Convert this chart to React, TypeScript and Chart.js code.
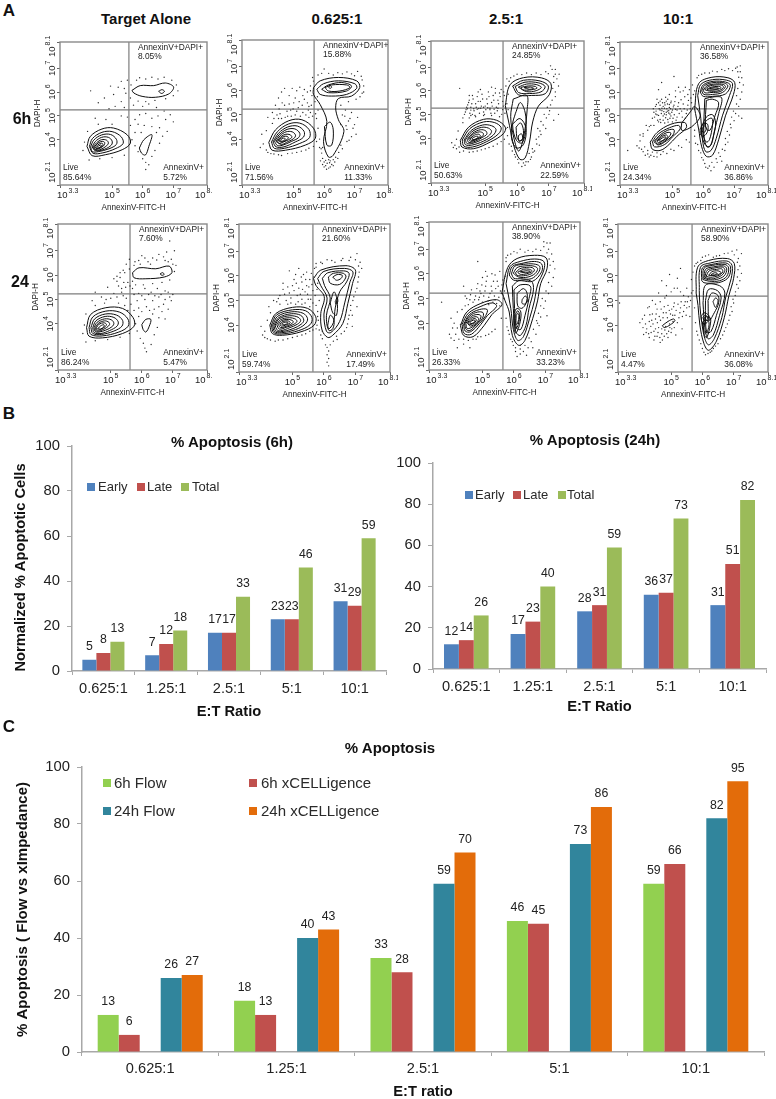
import React, { useEffect, useRef } from "react";
import { Chart, registerables } from "chart.js";
Chart.register(...registerables);

const FONT = '"Liberation Sans", Arial, sans-serif';

// ---------- Panel A: log10 readings from the flow plots ----------
const xTickValues = [3.3, 5, 6, 7, 8.1];
const yTickValues = [2.1, 4, 5, 6, 7, 8.1];

const p1Dots = [5.3,6.45,5.5,6.5,5.62,6.3,5.8,6.5,5.9,6.6,6.1,6.55,6.3,6.62,6.5,6.55,6.7,6.62,6.95,6.5,7.1,6.3,7.15,6.05,7.0,5.85,6.75,5.72,6.4,5.65,6.1,5.6,5.85,5.62,5.6,5.75,5.45,5.95,5.4,6.15,5.2,6.2,5.05,5.9,4.95,6.25,4.75,5.75,4.55,5.55,4.3,6.05,5.3,5.6,5.1,5.4,4.9,5.3,5.4,5.35,5.7,5.45,6.0,5.4,6.2,5.5,6.45,5.35,6.7,5.2,6.9,5.05,7.0,4.75,6.75,4.85,6.5,5.0,6.3,4.9,6.1,5.1,5.9,5.05,5.75,4.85,5.5,4.95,5.3,5.0,5.6,4.6,5.85,4.65,6.05,4.6,6.3,4.55,6.55,4.5,6.8,4.35,6.65,4.15,6.45,4.3,5.75,4.3,5.95,4.3,5.65,4.0,5.75,3.75,5.85,3.5,6.0,3.2,6.1,3.05,6.2,2.95,6.3,3.3,6.4,3.55,6.55,3.85,6.1,2.75,4.1,3.9,4.05,3.55,4.25,3.15,4.6,3.2,5.0,3.25,5.4,3.35,4.2,4.35,4.55,4.65,5.0,4.65,4.8,4.85,4.45,4.9];
const p1Loops = [
  [4.18,3.72,4.29,4.14,4.67,4.45,5.05,4.49,5.49,4.21,5.6,3.86,5.33,3.58,4.78,3.37,4.35,3.33],
  [4.26,3.72,4.36,4.05,4.67,4.31,5.0,4.34,5.3,4.12,5.36,3.84,5.1,3.62,4.7,3.45,4.38,3.43],
  [4.3,3.7,4.4,3.98,4.66,4.2,4.95,4.22,5.14,4.02,5.14,3.8,4.9,3.62,4.55,3.5,4.36,3.5],
  [4.35,3.7,4.45,3.92,4.66,4.1,4.88,4.1,5.0,3.95,4.98,3.78,4.75,3.6,4.45,3.54],
  [4.38,3.7,4.5,3.88,4.66,4.0,4.82,3.98,4.88,3.86,4.8,3.72,4.6,3.58,4.44,3.58],
  [4.42,3.7,4.54,3.86,4.68,3.93,4.76,3.88,4.72,3.74,4.56,3.62,4.45,3.6],
  [4.46,3.7,4.58,3.82,4.68,3.85,4.7,3.76,4.58,3.66,4.48,3.63],
  [4.5,3.68,4.62,3.78,4.66,3.74,4.6,3.68,4.52,3.64],
  [5.65,6.07,5.92,6.27,6.36,6.27,6.74,6.38,7.01,6.21,6.85,5.92,6.41,5.78,5.98,5.82,5.71,5.96],
  [6.52,6.03,6.63,6.1,6.71,6.03,6.62,5.94],
  [5.89,3.65,6.04,4.0,6.3,4.21,6.2,3.72,6.09,3.36,5.96,3.44],
];

const p2Dots = [4.3,5.1,4.4,5.4,4.5,5.7,4.6,5.95,4.7,6.1,4.85,5.8,4.95,6.1,5.1,6.0,5.2,6.15,5.3,5.8,5.45,5.95,5.55,6.2,5.65,6.4,5.8,6.65,6.0,6.9,6.3,6.65,6.6,6.7,6.9,6.7,7.1,6.8,7.25,6.45,7.3,6.2,7.25,5.9,7.05,5.65,6.8,5.55,5.0,5.5,5.15,5.3,4.9,5.2,4.7,5.4,4.55,5.05,4.35,4.85,4.6,4.85,4.8,4.95,5.05,5.0,5.3,5.1,5.5,5.35,5.55,5.1,5.5,4.9,5.75,4.85,5.8,5.2,5.7,5.55,6.7,5.2,6.9,5.1,7.1,4.9,7.0,4.6,6.8,4.75,6.6,5.0,6.75,4.4,6.9,4.1,7.05,4.2,6.75,3.9,6.6,3.6,5.8,4.45,5.85,4.0,5.85,3.65,5.95,3.2,6.0,3.05,6.05,2.9,6.15,2.8,6.25,2.95,6.35,3.05,6.45,3.2,6.1,3.0,6.2,3.1,6.15,3.15,6.3,3.15,5.95,2.95,3.95,4.2,4.0,3.8,4.1,3.55,4.25,3.4,4.5,3.35,4.8,3.4,5.1,3.45,5.4,3.55,5.65,3.7,5.75,3.9,5.9,3.6,4.1,4.35,4.3,4.65,4.5,4.85,4.15,4.9,3.9,3.65];
const p2More = [4.45,5.0,4.52,5.25,4.62,5.5,4.72,4.9,4.78,5.15,4.85,5.45,4.92,4.95,4.98,5.25,5.05,5.7,5.1,5.15,5.18,5.55,5.22,4.95,5.28,5.4,5.35,5.65,5.4,5.0,5.45,5.5,5.48,5.2,5.6,5.8,5.62,4.95,5.58,5.4,5.72,5.05,5.78,5.75,5.55,6.0,5.35,6.05,5.62,6.55,5.92,6.72,6.15,6.72,6.45,6.75,6.75,6.78,7.0,6.62,7.22,6.6,7.18,5.75,7.3,5.95,6.55,5.4,6.68,4.95,6.85,4.85,6.95,4.45,6.82,3.95,6.55,3.75,6.48,3.45,5.92,3.42,5.88,3.1,6.0,2.85,6.08,2.75,6.2,2.85,6.3,2.9,6.18,3.02,6.38,3.25,6.05,3.12,4.15,3.45,4.35,3.38,4.6,3.32,4.95,3.42,5.25,3.5,5.5,3.62,5.95,3.65,6.55,4.6,6.72,4.55];
const p2Loops = [
  [4.18,3.86,4.4,4.38,4.84,4.76,5.27,4.8,5.65,4.45,5.71,4.03,5.38,3.75,4.73,3.54,4.29,3.54],
  [4.27,3.88,4.46,4.3,4.82,4.62,5.2,4.66,5.5,4.4,5.52,4.06,5.2,3.82,4.7,3.62,4.36,3.62],
  [4.32,3.88,4.5,4.24,4.8,4.5,5.12,4.54,5.34,4.32,5.32,4.08,5.05,3.88,4.68,3.68,4.42,3.68],
  [4.37,3.9,4.52,4.18,4.78,4.4,5.04,4.42,5.2,4.24,5.16,4.06,4.92,3.9,4.62,3.74,4.46,3.74],
  [4.42,3.9,4.55,4.14,4.75,4.3,4.95,4.3,5.06,4.16,5.0,4.02,4.82,3.9,4.6,3.78],
  [4.46,3.9,4.58,4.1,4.74,4.2,4.88,4.18,4.94,4.08,4.84,3.98,4.66,3.88,4.52,3.82],
  [4.5,3.92,4.6,4.06,4.72,4.12,4.82,4.08,4.78,3.98,4.62,3.88],
  [4.54,3.93,4.62,4.02,4.7,4.04,4.72,3.98,4.62,3.91],
  [5.65,6.13,5.87,6.41,6.47,6.55,7.07,6.41,7.17,6.13,6.9,5.78,6.47,5.68,6.38,5.29,6.47,4.8,6.65,4.31,6.3,3.33,6.14,3.26,5.98,3.89,6.09,4.73,5.87,5.43,5.65,5.85],
  [5.76,6.06,5.98,6.29,6.47,6.41,7.01,6.29,7.07,6.1,6.74,5.85,6.25,5.78,5.87,5.85],
  [5.92,6.06,6.14,6.24,6.58,6.34,6.9,6.2,6.74,5.99,6.14,5.92],
  [6.03,6.13,6.25,6.24,6.74,6.24,6.85,6.13,6.52,5.99,6.14,5.99],
  [6.14,6.15,6.2,6.21,6.25,6.15,6.2,6.1],
  [6.01,4.52,6.2,4.7,6.3,4.38,6.25,3.75,6.09,3.75],
];

const p3Dots = [4.35,5.0,4.4,5.2,4.45,5.4,4.5,5.6,4.55,5.3,4.6,5.0,4.65,5.15,4.7,5.45,4.75,5.75,4.8,5.25,4.85,5.55,4.9,5.85,4.95,5.1,5.0,5.35,5.05,5.65,5.1,5.95,5.15,5.2,5.2,5.5,5.25,5.8,5.3,5.05,5.35,5.3,5.4,5.6,5.45,5.9,5.5,6.05,5.55,5.2,5.55,5.55,5.6,5.8,5.65,6.2,5.75,6.4,5.2,6.15,4.85,6.05,4.5,5.8,4.2,6.1,4.3,4.85,4.5,4.85,4.7,4.9,4.95,4.95,5.2,4.95,5.45,4.9,5.7,4.9,5.8,6.55,6.0,6.7,6.3,6.75,6.6,6.75,6.9,6.8,7.1,6.9,7.2,6.7,7.25,6.5,7.3,6.2,7.2,5.95,7.1,5.6,6.95,5.3,6.85,5.0,6.75,4.7,6.65,4.4,6.75,4.15,6.6,3.95,6.7,3.7,6.55,3.45,6.45,3.2,6.35,3.0,6.25,2.85,6.15,2.8,6.05,2.95,5.95,3.2,5.85,3.45,5.75,3.75,5.7,4.1,5.65,4.4,3.95,3.8,4.1,3.55,4.0,3.6,4.2,3.4,4.5,3.4,4.75,3.45,5.0,3.55,5.25,3.65,5.5,3.85,5.7,4.45,7.0,5.0,7.15,4.75,7.3,5.0,6.9,4.4,6.5,3.4,4.1,3.95,4.15,4.3,4.3,4.65,4.55,4.95];
const p3More = [4.38,5.1,4.42,5.3,4.48,5.5,4.52,5.05,4.58,5.45,4.62,5.65,4.68,4.95,4.72,5.3,4.78,5.55,4.82,5.05,4.88,5.35,4.92,5.65,4.98,5.0,5.02,5.2,5.07,5.45,5.12,5.75,5.18,5.05,5.22,5.35,5.27,5.6,5.32,5.9,5.38,5.15,5.42,5.45,5.47,5.75,5.52,5.0,5.57,5.35,5.62,5.05,5.28,5.22,5.08,5.28,4.86,5.26,4.64,5.24,4.44,5.24,5.4,5.26,5.15,5.26,4.95,5.3,4.75,5.22,4.55,5.18,4.6,5.8,4.78,5.95,5.32,6.1,5.58,5.95,5.72,5.85,5.68,5.45,5.72,5.2,5.68,6.5,5.9,6.62,6.15,6.68,6.45,6.68,6.75,6.68,6.98,6.72,7.15,6.6,7.15,6.35,7.12,6.1,7.2,5.75,7.05,5.4,7.02,5.15,6.92,4.85,6.82,4.55,6.72,4.3,6.68,4.05,6.62,3.75,6.48,3.55,6.38,3.35,6.28,3.0,6.02,3.1,5.92,3.3,5.82,3.65,4.05,3.7,4.18,3.62,4.32,3.45,4.62,3.42,4.88,3.5,5.12,3.6,5.38,3.75,5.6,3.95,6.42,3.1,6.2,2.95,7.2,6.9,7.32,6.7,7.05,7.05];
const p3Loops = [
  [4.22,3.9,4.48,4.46,4.95,4.79,5.36,4.75,5.63,4.46,5.57,4.18,5.16,3.83,4.64,3.55,4.27,3.62],
  [4.28,3.92,4.52,4.4,4.95,4.68,5.3,4.65,5.5,4.44,5.42,4.18,5.05,3.85,4.6,3.62,4.33,3.66],
  [4.34,3.92,4.56,4.32,4.92,4.55,5.2,4.52,5.34,4.36,5.25,4.12,4.95,3.87,4.58,3.7,4.38,3.72],
  [4.38,3.93,4.58,4.26,4.88,4.45,5.1,4.42,5.2,4.28,5.1,4.08,4.85,3.9,4.56,3.76,4.42,3.78],
  [4.44,3.94,4.6,4.2,4.85,4.35,5.02,4.3,5.05,4.16,4.9,4.02,4.68,3.86,4.48,3.82],
  [4.48,3.95,4.62,4.16,4.82,4.26,4.94,4.2,4.92,4.08,4.75,3.96,4.55,3.86],
  [4.52,3.96,4.66,4.12,4.8,4.16,4.85,4.08,4.75,3.98,4.58,3.9],
  [4.58,3.97,4.7,4.07,4.78,4.06,4.74,3.98,4.62,3.93],
  [5.63,5.38,5.78,6.25,6.2,6.55,6.77,6.54,7.06,6.3,7.01,5.83,6.67,5.35,6.49,4.68,6.39,3.83,6.25,3.15,6.09,3.1,5.91,3.62,5.76,4.54,5.66,5.17],
  [5.86,6.2,6.2,6.44,6.72,6.41,6.98,6.2,6.88,5.87,6.46,5.8,6.04,5.83],
  [5.94,6.18,6.25,6.36,6.68,6.33,6.88,6.17,6.75,5.95,6.4,5.88,6.05,5.92],
  [6.04,6.15,6.3,6.28,6.6,6.26,6.76,6.14,6.6,6.0,6.3,5.96],
  [6.12,6.14,6.35,6.2,6.58,6.18,6.62,6.1,6.4,6.03,6.18,6.04],
  [6.22,6.13,6.42,6.15,6.52,6.1,6.38,6.06],
  [5.88,5.65,6.3,5.8,6.32,5.25,6.2,4.0,6.05,3.45,5.9,4.0,5.8,4.9],
  [5.95,5.05,6.1,5.5,6.25,5.1,6.28,4.4,6.16,3.8,5.98,3.9,5.86,4.55],
  [5.83,4.55,6.09,4.82,6.28,4.4,6.2,3.72,5.98,3.58,5.83,3.97],
  [5.97,4.46,6.11,4.64,6.2,4.32,6.15,3.9,6.01,3.97],
  [6.04,4.1,6.14,4.18,6.17,3.97,6.06,3.86],
];

const p4Dots = [4.35,4.9,4.4,5.15,4.45,5.4,4.5,5.05,4.55,5.55,4.6,4.85,4.6,5.25,4.65,5.7,4.7,5.0,4.7,5.4,4.75,4.7,4.75,5.55,4.8,5.15,4.85,4.85,4.85,5.7,4.9,5.35,4.95,5.0,4.95,5.55,5.0,4.75,5.0,5.25,5.05,5.45,5.1,5.8,5.15,4.95,5.15,5.25,5.2,5.55,5.25,6.0,5.3,5.2,5.35,5.5,5.4,5.8,5.45,5.1,5.5,5.45,5.55,6.1,5.6,5.75,5.65,6.3,5.5,5.9,5.35,6.05,5.2,6.2,4.9,5.9,4.65,6.4,4.5,5.7,4.3,4.6,4.4,4.6,4.55,4.75,4.2,4.4,5.8,6.6,5.95,6.75,6.2,6.8,6.45,6.85,6.7,6.9,6.95,6.9,7.1,7.05,7.2,6.85,7.25,6.6,7.3,6.3,7.25,6.0,7.2,5.7,7.15,5.4,7.05,5.1,7.0,4.8,6.9,4.5,6.85,4.2,6.8,3.9,6.7,3.55,6.55,3.3,6.45,3.05,6.35,2.85,6.25,2.7,6.15,2.8,6.05,3.0,5.95,3.25,5.85,3.55,5.75,3.85,3.95,3.95,4.05,4.15,4.1,3.7,4.2,3.55,4.3,3.35,4.5,3.45,4.7,3.5,4.95,3.6,5.2,3.75,5.45,4.0,4.2,3.4,4.0,3.6,3.85,3.75,4.4,3.3,4.6,4.0,3.55,3.55,4.55,6.1,5.05,6.65,7.2,7.1,7.15,5.0,7.25,4.9,6.6,3.1];
const p4More = [4.42,4.95,4.47,5.2,4.48,5.48,4.52,4.82,4.55,5.02,4.57,5.3,4.6,5.45,4.62,4.72,4.64,5.1,4.66,5.32,4.68,5.55,4.7,4.82,4.72,5.18,4.74,5.32,4.76,5.46,4.78,4.92,4.8,5.05,4.8,5.62,4.82,5.3,4.84,5.5,4.86,4.74,4.88,5.12,4.88,5.22,4.9,5.48,4.92,4.9,4.94,5.3,4.96,5.62,4.98,5.15,5.02,4.9,5.03,5.38,5.06,5.05,5.08,5.6,5.1,5.28,5.12,4.82,5.18,5.4,5.22,5.1,5.25,5.3,5.28,5.68,5.32,4.95,5.38,5.3,5.42,4.9,5.48,5.25,5.52,5.65,5.58,5.3,5.62,5.55,5.68,5.9,5.72,6.05,5.42,6.2,5.1,6.05,4.78,5.78,4.6,5.62,4.74,5.08,4.84,5.2,4.66,5.22,4.92,5.08,4.46,5.08,4.38,5.3,4.25,4.55,4.15,4.6,4.05,4.25,3.95,4.2,3.92,3.65,4.05,3.5,4.12,3.35,4.25,3.28,4.35,3.48,4.5,3.28,4.62,3.38,4.82,3.42,5.05,3.55,5.3,3.68,5.55,3.9,5.72,4.15,5.72,4.4,5.85,6.7,6.05,6.8,6.3,6.88,6.6,6.95,6.82,6.98,7.05,7.0,7.12,6.85,7.15,6.62,7.18,6.4,7.12,6.15,7.08,5.85,7.08,5.5,6.98,5.2,6.92,4.95,6.88,4.65,6.78,4.35,6.72,4.05,6.72,3.8,6.62,3.6,6.5,3.45,6.42,3.2,6.28,3.05,6.2,2.9,6.08,2.85,6.0,3.15,5.92,3.45,5.82,3.8];
const p4Loops = [
  [4.28,3.9,4.5,4.3,4.95,4.65,5.4,4.72,5.45,4.5,5.15,4.15,4.85,3.75,4.6,3.55,4.35,3.6],
  [4.35,3.92,4.55,4.25,4.9,4.5,5.2,4.6,5.25,4.45,5.0,4.12,4.75,3.8,4.42,3.7],
  [4.4,3.92,4.6,4.2,4.85,4.4,5.05,4.42,5.02,4.2,4.8,3.95,4.55,3.78],
  [4.45,3.95,4.62,4.15,4.82,4.3,4.95,4.28,4.88,4.1,4.68,3.88,4.5,3.82],
  [4.5,3.95,4.65,4.12,4.8,4.2,4.85,4.12,4.72,3.98,4.55,3.87],
  [4.55,3.97,4.68,4.08,4.78,4.12,4.76,4.04,4.62,3.93],
  [5.3,4.7,5.6,5.2,5.72,5.4,5.9,5.0,5.72,4.65,5.5,4.45,5.3,4.4],
  [5.72,5.3,5.85,6.35,6.28,6.62,6.8,6.6,7.02,6.4,6.98,5.9,6.72,5.0,6.5,4.0,6.3,3.35,6.1,3.3,5.95,3.7,5.85,4.45,5.78,4.9],
  [5.82,5.85,5.92,6.32,6.3,6.52,6.75,6.5,6.95,6.35,6.85,5.85,6.62,5.0,6.42,4.05,6.25,3.55,6.08,3.5,5.98,3.95,5.92,4.9],
  [5.9,6.0,6.0,6.3,6.32,6.45,6.72,6.42,6.88,6.28,6.72,5.92,6.3,5.82,6.0,5.82],
  [5.95,6.05,6.05,6.28,6.35,6.4,6.68,6.38,6.8,6.25,6.62,5.98,6.3,5.9,6.02,5.9],
  [6.0,6.08,6.12,6.26,6.4,6.34,6.65,6.32,6.72,6.22,6.55,6.02,6.25,5.98,6.05,5.97],
  [6.05,6.1,6.18,6.24,6.44,6.3,6.62,6.28,6.65,6.18,6.48,6.05,6.2,6.04],
  [6.12,6.12,6.25,6.2,6.5,6.24,6.58,6.18,6.42,6.1,6.2,6.08],
  [6.2,6.14,6.35,6.18,6.5,6.16,6.38,6.12],
  [6.05,5.72,6.35,5.8,6.6,5.75,6.5,5.1,6.36,4.35,6.26,3.8,6.12,3.7,6.02,4.2],
  [6.1,5.65,6.3,5.7,6.5,5.55,6.38,5.0,6.22,4.4,6.08,4.5],
  [5.95,4.55,6.1,4.95,6.3,5.05,6.4,4.7,6.32,4.1,6.2,3.7,6.06,3.8,5.95,4.2],
  [6.0,4.55,6.1,4.8,6.28,4.9,6.3,4.6,6.2,4.0,6.1,3.9,6.0,4.2],
  [5.9,4.45,6.0,4.68,6.14,4.65,6.14,4.35,6.02,4.15,5.92,4.2],
  [5.96,4.45,6.04,4.58,6.1,4.5,6.05,4.32,5.98,4.32],
];

const p5Dots = [5.3,5.9,5.4,6.2,5.5,6.45,5.6,6.65,5.75,6.4,5.9,6.6,6.0,6.8,6.2,6.55,6.35,6.7,6.55,6.85,6.75,6.6,6.95,6.65,7.05,7.0,7.1,6.4,7.05,6.15,6.9,5.8,6.65,5.7,6.35,5.65,6.05,5.6,5.8,5.6,5.55,5.7,5.25,5.55,5.1,5.85,5.1,5.25,4.9,5.5,4.7,5.1,4.5,5.3,4.85,5.0,5.2,5.1,5.35,5.3,5.5,5.05,5.7,5.45,5.9,5.25,6.1,5.45,6.3,5.3,6.5,5.45,6.75,5.35,7.0,5.2,6.95,4.95,6.75,5.0,6.55,5.1,6.35,4.95,6.1,5.0,5.85,4.95,5.65,4.8,5.45,4.75,5.25,4.85,5.9,4.65,6.15,4.7,6.4,4.6,6.65,4.5,6.85,4.6,6.75,4.2,6.55,4.25,6.35,4.4,5.9,4.3,5.8,4.0,5.85,3.7,5.95,3.4,6.05,3.2,6.1,3.0,6.15,2.85,6.3,3.15,6.4,3.55,6.5,3.85,4.1,3.6,4.15,3.95,4.2,3.25,4.5,3.3,4.9,3.35,5.3,3.45,5.6,3.6,4.2,4.4,4.5,4.75,4.8,4.85,4.4,4.95,6.9,7.4,6.8,6.95];
const p5More = [5.2,5.75,5.35,5.45,5.42,5.7,5.48,5.5,5.62,5.55,5.7,5.75,5.2,5.95,5.3,6.1,5.45,6.1,5.6,6.25,5.78,6.55,5.95,6.45,6.1,6.7,6.28,6.45,6.48,6.62,6.7,6.75,6.85,6.55,7.0,6.45,5.75,5.2,6.0,5.15,6.22,5.2,6.42,5.15,6.62,5.2,6.85,5.3,6.9,5.1,5.55,4.55,5.75,4.55,6.0,4.5,6.25,4.55,6.55,4.7,6.7,4.8,5.4,5.15,5.0,5.05];
const p5Loops = [
  [4.22,3.84,4.35,4.38,4.84,4.66,5.38,4.63,5.72,4.25,5.75,3.9,5.38,3.6,4.73,3.42,4.3,3.49],
  [4.3,3.84,4.42,4.28,4.84,4.52,5.28,4.48,5.55,4.2,5.56,3.9,5.26,3.66,4.72,3.5,4.36,3.56],
  [4.36,3.84,4.48,4.2,4.82,4.4,5.18,4.36,5.38,4.14,5.36,3.9,5.1,3.7,4.7,3.56,4.42,3.6],
  [4.42,3.84,4.52,4.12,4.82,4.3,5.1,4.26,5.24,4.08,5.2,3.9,4.96,3.72,4.68,3.6,4.46,3.64],
  [4.46,3.84,4.56,4.06,4.8,4.2,5.02,4.16,5.1,4.02,5.04,3.88,4.84,3.74,4.62,3.66,4.5,3.68],
  [4.5,3.84,4.6,4.02,4.8,4.12,4.94,4.06,4.96,3.96,4.86,3.84,4.68,3.72,4.54,3.7],
  [4.54,3.84,4.62,3.98,4.78,4.04,4.86,3.98,4.82,3.88,4.66,3.76,4.56,3.74],
  [4.58,3.8,4.68,3.92,4.78,3.96,4.78,3.88,4.66,3.78],
  [5.7,6.1,5.91,6.3,6.45,6.26,6.88,6.37,6.97,6.1,6.72,5.92,6.13,5.85,5.75,5.89],
  [6.59,6.05,6.67,6.1,6.72,6.03,6.65,5.99],
  [6.0,3.97,6.13,4.18,6.29,4.18,6.24,3.9,6.13,3.66,6.04,3.77],
];

const p6Dots = [4.5,4.95,4.6,5.2,4.7,5.45,4.8,5.0,4.9,5.3,5.0,5.6,5.05,5.85,5.15,5.2,5.2,5.5,5.3,5.05,5.3,5.75,5.35,6.05,5.4,5.35,5.45,5.6,5.5,5.05,5.55,5.85,5.6,6.1,5.65,5.4,5.7,6.3,5.75,6.5,5.9,6.55,6.1,6.65,6.35,6.55,6.6,6.7,6.85,6.75,7.05,6.9,7.15,6.55,7.2,6.3,7.1,5.95,7.05,5.5,6.95,5.15,6.85,4.8,6.8,4.4,6.75,4.05,6.65,3.75,6.4,3.55,6.3,3.35,6.2,3.2,6.05,3.2,5.95,3.45,5.85,3.8,5.82,4.2,5.8,4.55,5.85,5.0,4.9,6.2,4.7,5.7,4.4,5.0,4.25,4.75,4.6,4.85,4.85,4.85,5.1,4.85,5.3,4.85,5.55,4.75,5.75,4.8,4.0,3.95,4.05,3.6,4.2,3.45,4.45,3.35,4.7,3.4,5.0,3.5,5.3,3.6,5.55,3.75,5.75,3.85,6.1,3.1,6.15,2.95,6.1,2.8,6.15,2.65,6.1,2.5,6.15,2.35,6.9,4.4,7.05,4.75,6.9,3.95,4.2,4.2,4.3,4.5,5.2,6.3];
const p6More = [4.55,5.08,4.75,5.25,4.85,5.55,4.95,5.1,5.05,5.4,5.12,5.7,5.18,4.95,5.25,5.25,5.28,5.95,5.32,5.45,5.42,5.85,5.48,5.25,5.52,5.55,5.58,5.05,5.62,5.65,5.68,5.95,5.72,5.2,5.78,5.45,5.8,5.7,5.45,6.15,5.1,6.05,4.95,4.9,5.4,4.9,5.65,4.9,5.75,6.35,5.95,6.5,6.25,6.62,6.55,6.62,6.8,6.62,7.0,6.65,7.1,6.4,7.12,6.15,7.08,5.75,7.0,5.35,6.92,5.0,6.85,4.6,6.78,4.25,6.72,3.9,6.55,3.65,6.42,3.42,5.9,3.6,5.95,3.75,5.78,4.0,5.8,4.35,4.12,3.75,4.12,3.5,4.3,3.4,4.55,3.4,4.85,3.45,5.15,3.55,5.42,3.65,5.65,3.8];
const p6Loops = [
  [4.28,4.0,4.47,4.47,5.0,4.72,5.48,4.68,5.74,4.34,5.69,4.0,5.27,3.73,4.68,3.59,4.36,3.66],
  [4.33,4.0,4.5,4.42,5.0,4.62,5.42,4.58,5.62,4.3,5.56,4.02,5.2,3.78,4.66,3.64,4.4,3.7],
  [4.37,4.0,4.53,4.36,4.98,4.54,5.34,4.48,5.48,4.26,5.4,4.04,5.1,3.82,4.64,3.69,4.43,3.74],
  [4.41,4.0,4.56,4.3,4.96,4.46,5.26,4.4,5.36,4.2,5.28,4.04,5.02,3.86,4.62,3.73,4.46,3.78],
  [4.45,4.0,4.58,4.26,4.92,4.38,5.18,4.32,5.26,4.18,5.16,4.04,4.92,3.9,4.62,3.77,4.5,3.82],
  [4.5,4.02,4.62,4.22,4.9,4.3,5.1,4.24,5.14,4.14,5.02,4.02,4.82,3.92,4.58,3.84],
  [4.55,4.03,4.65,4.18,4.88,4.23,5.02,4.16,5.0,4.08,4.85,3.98,4.62,3.9],
  [4.6,4.05,4.7,4.15,4.86,4.17,4.93,4.1,4.82,4.02,4.64,3.96],
  [4.66,4.06,4.76,4.12,4.86,4.1,4.8,4.04,4.68,4.01],
  [5.67,5.89,5.9,6.23,6.7,6.41,7.0,6.23,6.91,5.69,6.76,4.88,6.6,4.07,6.28,3.59,6.12,3.5,5.94,3.8,5.9,4.47,6.01,5.15,5.74,5.62],
  [5.8,5.89,6.0,6.18,6.65,6.3,6.92,6.16,6.82,5.72,6.66,4.9,6.5,4.15,6.22,3.7,6.08,3.75,6.0,4.45,6.1,5.1,5.9,5.6],
  [5.95,5.9,6.12,6.12,6.62,6.2,6.8,6.1,6.72,5.75,6.5,5.35,6.36,4.7,6.3,4.1,6.14,3.85,6.08,4.4,6.2,5.1,6.02,5.6],
  [6.14,5.95,6.3,6.1,6.62,6.1,6.7,5.95,6.5,5.65,6.2,5.7],
  [6.28,5.95,6.42,6.05,6.58,6.02,6.55,5.9,6.4,5.82],
  [6.2,4.9,6.32,5.35,6.42,5.0,6.4,4.4,6.28,4.5],
  [6.36,4.95,6.42,5.12,6.44,4.95,6.38,4.85],
  [6.12,4.0,6.2,4.4,6.32,4.2,6.28,3.85,6.16,3.78],
];

const p7Dots = [4.3,3.95,4.45,5.1,4.55,4.75,4.65,5.35,4.75,4.95,4.85,5.6,4.95,5.2,5.0,4.85,5.1,5.5,5.15,5.9,5.2,5.05,5.3,5.3,5.35,5.7,5.4,4.95,5.5,5.5,5.55,6.1,5.6,5.2,5.65,5.75,5.3,6.0,4.85,6.5,5.0,5.85,4.4,5.5,4.9,5.05,5.2,4.75,5.45,4.8,5.55,4.7,5.75,6.5,5.8,6.75,6.0,6.9,6.2,7.0,6.45,6.95,6.7,7.0,6.95,7.1,7.1,7.0,7.2,6.8,7.25,6.5,7.3,6.2,7.25,5.85,7.2,5.5,7.1,5.2,7.0,4.9,6.95,4.6,6.85,4.25,6.8,3.9,6.7,3.55,6.55,3.25,6.45,3.0,6.3,2.85,6.2,2.75,6.1,2.65,6.05,3.0,5.95,3.25,5.85,3.55,5.78,3.85,5.75,4.2,3.95,3.55,4.05,3.8,4.1,3.3,4.2,3.0,4.4,3.15,4.6,3.0,4.8,3.35,4.95,3.45,5.2,3.55,5.4,3.75,5.6,4.2,4.0,4.2,4.2,4.45,3.7,4.85,7.15,7.25,7.05,7.25,6.95,7.3,6.75,4.0,7.05,4.3,6.6,3.0,6.4,2.7,6.2,3.1];
const p7More = [4.5,5.0,4.62,5.15,4.7,4.85,4.78,5.1,4.82,5.4,4.88,4.95,4.92,5.3,4.98,5.55,5.04,5.1,5.08,5.3,5.12,5.7,5.18,4.9,5.24,5.2,5.28,5.5,5.33,4.85,5.38,5.1,5.42,5.4,5.47,5.7,5.52,5.05,5.57,5.3,5.62,5.55,5.68,5.0,5.7,5.3,5.72,5.9,5.4,5.95,5.1,6.1,4.6,4.95,5.75,6.65,5.9,6.8,6.1,6.85,6.35,6.88,6.6,6.9,6.85,6.95,7.05,6.85,7.12,6.6,7.15,6.35,7.12,6.05,7.1,5.65,7.02,5.3,6.9,5.0,6.85,4.7,6.78,4.4,6.72,4.1,6.62,3.75,6.48,3.4,6.35,3.1,6.2,2.95,6.05,2.85,5.98,3.1,5.9,3.35,5.82,3.7,4.0,3.4,4.15,3.55,4.25,3.35,4.4,3.35,4.55,3.3,4.7,3.35,4.85,3.45,5.1,3.5,5.3,3.65,4.1,4.0,4.2,3.8,4.35,4.55,4.45,4.7];
const p7Loops = [
  [4.3,3.9,4.5,4.45,4.95,4.8,5.45,4.95,5.62,4.75,5.3,4.35,5.05,3.9,4.7,3.45,4.4,3.5],
  [4.35,3.95,4.55,4.4,4.95,4.68,5.32,4.82,5.45,4.68,5.15,4.3,4.95,3.95,4.65,3.55,4.42,3.58],
  [4.4,3.95,4.58,4.34,4.9,4.55,5.15,4.55,5.1,4.3,4.9,3.98,4.62,3.65,4.45,3.68],
  [4.43,3.97,4.6,4.3,4.85,4.45,5.02,4.42,5.0,4.2,4.82,3.95,4.6,3.7,4.48,3.75],
  [4.47,3.98,4.62,4.25,4.82,4.35,4.95,4.3,4.9,4.1,4.72,3.88,4.52,3.78],
  [4.52,4.0,4.64,4.2,4.8,4.26,4.88,4.18,4.8,4.02,4.62,3.88],
  [4.56,4.02,4.68,4.16,4.78,4.18,4.8,4.1,4.7,3.98,4.58,3.95],
  [4.6,4.03,4.7,4.12,4.76,4.1,4.72,4.02,4.62,3.98],
  [5.62,5.25,5.8,6.25,6.1,6.62,6.65,6.75,7.02,6.65,7.05,6.2,6.85,5.6,6.75,4.9,6.6,4.2,6.35,3.3,6.15,3.1,5.95,3.5,5.85,4.45,5.72,4.9],
  [5.75,5.6,5.88,6.3,6.2,6.5,6.65,6.6,6.95,6.5,6.95,6.15,6.75,5.55,6.65,4.9,6.5,4.2,6.3,3.45,6.12,3.3,5.98,3.75,5.9,4.6],
  [5.85,5.95,5.95,6.3,6.25,6.42,6.65,6.5,6.88,6.4,6.88,6.08,6.6,5.7,6.25,5.72,5.98,5.75],
  [5.92,6.0,6.02,6.3,6.3,6.38,6.62,6.4,6.82,6.3,6.78,6.05,6.55,5.8,6.22,5.8,6.0,5.82],
  [5.98,6.02,6.1,6.25,6.35,6.32,6.6,6.32,6.75,6.22,6.68,6.02,6.45,5.87,6.15,5.87],
  [6.05,6.04,6.18,6.2,6.4,6.26,6.58,6.25,6.65,6.15,6.55,6.0,6.3,5.92,6.1,5.94],
  [6.12,6.06,6.3,6.18,6.5,6.18,6.58,6.1,6.4,6.0,6.2,5.98],
  [6.2,6.08,6.38,6.12,6.52,6.1,6.38,6.04],
  [5.95,5.5,6.15,5.72,6.55,5.7,6.62,5.35,6.48,4.6,6.38,3.9,6.2,3.5,6.06,3.65,5.98,4.6],
  [6.0,5.35,6.2,5.55,6.52,5.5,6.48,5.0,6.35,4.3,6.22,3.75,6.08,3.8,6.02,4.6],
  [6.1,5.2,6.3,5.4,6.42,5.2,6.38,4.8,6.25,4.6,6.12,4.7],
  [6.26,4.95,6.36,5.1,6.44,4.95,6.36,4.78,6.26,4.8],
  [6.0,4.4,6.1,4.6,6.22,4.45,6.18,3.95,6.06,3.6,6.0,3.85],
  [6.04,4.35,6.12,4.5,6.18,4.35,6.14,3.95,6.06,3.78,6.03,4.0],
  [6.07,4.3,6.12,4.4,6.16,4.3,6.12,4.0,6.07,3.95],
];

const p8Dots = [4.0,4.1,4.1,3.9,4.15,4.4,4.2,3.7,4.25,4.7,4.3,4.15,4.3,3.5,4.35,3.95,4.4,4.45,4.4,5.0,4.45,3.75,4.45,3.4,4.5,4.25,4.55,4.65,4.55,3.55,4.6,5.3,4.6,3.9,4.65,4.95,4.65,3.3,4.7,3.65,4.75,4.5,4.8,5.1,4.8,3.8,4.85,5.6,4.9,3.5,4.9,4.8,4.95,4.05,5.0,3.7,5.0,5.35,5.05,4.4,5.1,3.9,5.1,4.9,5.15,3.6,5.2,5.9,5.25,4.3,5.3,4.7,5.35,3.85,5.4,5.2,5.4,4.55,5.45,4.95,5.5,5.5,5.5,4.7,5.55,5.15,5.6,4.35,5.65,5.85,5.7,5.4,5.7,6.15,5.3,6.3,4.95,6.05,5.2,5.5,4.7,5.8,3.35,4.9,5.75,6.4,5.85,6.55,6.0,6.75,6.2,6.85,6.45,6.8,6.7,6.9,6.95,7.0,7.1,7.05,7.15,6.7,7.25,6.9,7.2,6.4,7.25,6.1,7.2,5.8,7.15,5.5,7.05,5.2,7.0,4.9,6.95,4.55,6.85,4.2,6.75,3.9,6.65,3.6,6.5,3.25,6.35,3.05,6.25,2.9,6.1,2.8,6.0,3.05,5.9,3.4,5.82,3.75,5.78,4.1,5.75,4.7];
const p8More = [4.08,4.25,4.12,3.62,4.18,4.05,4.22,3.85,4.28,3.65,4.32,4.42,4.36,3.7,4.38,4.2,4.42,4.05,4.48,3.55,4.5,3.85,4.52,4.45,4.56,4.1,4.58,3.7,4.62,4.35,4.64,3.5,4.66,4.2,4.68,4.65,4.7,3.85,4.72,3.4,4.74,4.3,4.78,3.55,4.78,4.75,4.82,3.95,4.84,4.5,4.86,3.65,4.88,4.3,4.92,3.75,4.94,4.6,4.96,3.9,4.98,4.45,5.02,3.85,5.02,4.65,5.06,4.15,5.08,4.75,5.12,4.4,5.16,4.6,5.2,4.1,5.22,4.85,5.28,4.5,5.32,4.95,5.36,4.35,5.42,4.8,5.48,4.4,5.52,4.95,5.58,4.75,5.62,5.0,5.65,5.3,5.3,5.35,5.1,5.5,4.85,5.2,4.5,4.85,4.3,4.75,5.8,6.5,5.95,6.62,6.1,6.8,6.35,6.75,6.55,6.82,6.82,6.92,7.02,6.85,7.12,6.55,7.14,6.25,7.12,5.95,7.1,5.65,7.06,5.35,6.98,5.05,6.92,4.75,6.88,4.4,6.8,4.05,6.7,3.75,6.58,3.45,6.42,3.15,6.3,2.95,6.18,2.85,6.05,2.9,5.95,3.25,5.85,3.6];
const p8Loops = [
  [4.72,3.98,4.9,4.15,5.08,4.25,5.12,4.18,4.98,4.02,4.78,3.9],
  [5.8,5.3,5.85,6.35,6.2,6.62,6.8,6.7,7.02,6.5,7.0,5.9,6.85,5.2,6.7,4.3,6.45,3.35,6.2,2.98,6.05,3.25,5.92,4.0,5.86,4.8],
  [5.9,5.4,5.94,6.35,6.25,6.52,6.78,6.6,6.95,6.42,6.92,5.88,6.75,5.15,6.62,4.3,6.38,3.45,6.2,3.2,6.08,3.45,5.98,4.1,5.92,4.8],
  [5.98,5.8,6.0,6.32,6.3,6.46,6.75,6.52,6.9,6.36,6.84,5.95,6.6,5.75,6.25,5.7,6.05,5.72],
  [6.02,5.85,6.05,6.3,6.32,6.42,6.72,6.46,6.84,6.32,6.78,5.98,6.55,5.8,6.22,5.78],
  [6.05,5.9,6.1,6.26,6.35,6.36,6.68,6.4,6.78,6.28,6.7,6.0,6.45,5.85,6.2,5.84],
  [6.08,5.95,6.15,6.22,6.4,6.32,6.65,6.35,6.72,6.22,6.62,6.02,6.35,5.88,6.15,5.9],
  [6.12,5.98,6.22,6.2,6.45,6.26,6.62,6.28,6.65,6.15,6.5,6.0,6.25,5.94],
  [6.2,6.02,6.3,6.16,6.5,6.2,6.6,6.12,6.42,6.02],
  [6.28,6.05,6.38,6.12,6.48,6.1,6.38,6.03],
  [6.02,4.9,6.1,5.62,6.55,5.6,6.72,5.3,6.55,4.4,6.35,3.6,6.18,3.45,6.08,3.9],
  [6.1,5.0,6.2,5.45,6.48,5.4,6.6,5.1,6.45,4.4,6.28,3.75,6.15,3.7,6.1,4.2],
  [6.18,5.0,6.3,5.3,6.5,5.2,6.52,4.9,6.38,4.5,6.22,4.2],
  [6.34,4.95,6.42,5.1,6.5,5.0,6.42,4.72],
  [6.04,4.1,6.08,4.32,6.25,4.3,6.25,4.0,6.14,3.5,6.06,3.6],
  [6.0,4.1,6.08,4.2,6.2,4.15,6.2,3.9,6.12,3.68,6.05,3.75],
  [5.96,4.35,6.05,4.5,6.2,4.4,6.2,4.2,6.08,4.05,5.98,4.15],
  [6.02,4.32,6.09,4.4,6.16,4.33,6.14,4.2,6.05,4.2],
];

const panels = [
  { left: 60, right: 207, top: 42, bottom: 185, gateX: 5.55, gateY: 5.25, dots: p1Dots, loops: p1Loops, lastX: "8.", q: ["8.05%", "85.64%", "5.72%"] },
  { left: 242, right: 388, top: 40, bottom: 185, gateX: 5.67, gateY: 5.24, dots: [...p2Dots, ...p2More], loops: p2Loops, lastX: "8.", q: ["15.88%", "71.56%", "11.33%"] },
  { left: 431, right: 584, top: 41, bottom: 183, gateX: 5.56, gateY: 5.26, dots: [...p3Dots, ...p3More], loops: p3Loops, lastX: "8.1", q: ["24.85%", "50.63%", "22.59%"] },
  { left: 620, right: 768, top: 42, bottom: 185, gateX: 5.6, gateY: 5.29, dots: [...p4Dots, ...p4More], loops: p4Loops, lastX: "8.1", q: ["36.58%", "24.34%", "36.86%"] },
  { left: 58, right: 207, top: 224, bottom: 370, gateX: 5.62, gateY: 5.23, dots: [...p5Dots, ...p5More], loops: p5Loops, lastX: "8.", q: ["7.60%", "86.24%", "5.47%"] },
  { left: 239, right: 390, top: 224, bottom: 372, gateX: 5.65, gateY: 5.22, dots: [...p6Dots, ...p6More], loops: p6Loops, lastX: "8.1", q: ["21.60%", "59.74%", "17.49%"] },
  { left: 429, right: 580, top: 222, bottom: 370, gateX: 5.65, gateY: 5.22, dots: [...p7Dots, ...p7More], loops: p7Loops, lastX: "8.1", q: ["38.90%", "26.33%", "33.23%"] },
  { left: 618, right: 768, top: 224, bottom: 372, gateX: 5.67, gateY: 5.18, dots: [...p8Dots, ...p8More], loops: p8Loops, lastX: "8.1", q: ["58.90%", "4.47%", "36.08%"] },
];

// ---------- Panels B and C ----------
const ratioLabels = ["0.625:1", "1.25:1", "2.5:1", "5:1", "10:1"];
const early6h = [5, 7, 17, 23, 31];
const late6h = [8, 12, 17, 23, 29];
const total6h = [13, 18, 33, 46, 59];
const early24h = [12, 17, 28, 36, 31];
const late24h = [14, 23, 31, 37, 51];
const total24h = [26, 40, 59, 73, 82];
const flow6h = [13, 18, 33, 46, 59];
const xcell6h = [6, 13, 28, 45, 66];
const flow24h = [26, 40, 59, 73, 82];
const xcell24h = [27, 43, 70, 86, 95];

const pairs = (flat: number[]) => {
  const out: { x: number; y: number }[] = [];
  for (let i = 0; i < flat.length; i += 2) out.push({ x: flat[i], y: flat[i + 1] });
  return out;
};

function drawPower(ctx: any, exp: string, x: number, y: number, align: string) {
  ctx.font = `9.5px ${FONT}`;
  const w1 = ctx.measureText("10").width;
  ctx.font = `7px ${FONT}`;
  const w2 = ctx.measureText(exp).width;
  const start = align === "left" ? x : x - (w1 + w2 + 1) / 2;
  ctx.textAlign = "left";
  ctx.textBaseline = "middle";
  ctx.fillStyle = "#222";
  ctx.font = `9.5px ${FONT}`;
  ctx.fillText("10", start, y);
  ctx.font = `7px ${FONT}`;
  ctx.fillText(exp, start + w1 + 1, y - 3.5);
}

const M = { l: 32, r: 8, t: 6, b: 30 };

function FlowPanel({ p }: { p: any }) {
  const ref = useRef<HTMLCanvasElement>(null);
  useEffect(() => {
    const overlay = {
      id: "flowText",
      afterDraw(chart: any) {
        const { ctx, chartArea: a, scales } = chart;
        ctx.save();
        ctx.strokeStyle = "#8a8a8a";
        ctx.lineWidth = 1.4;
        ctx.strokeRect(a.left, a.top, a.right - a.left, a.bottom - a.top);
        xTickValues.forEach((v, i) => {
          const px = scales.x.getPixelForValue(v);
          if (i === 0) drawPower(ctx, "3.3", a.left - 3, a.bottom + 10, "left");
          else if (i === xTickValues.length - 1) drawPower(ctx, p.lastX, a.right - 12, a.bottom + 10, "left");
          else drawPower(ctx, String(v), px, a.bottom + 10, "center");
        });
        yTickValues.forEach((v, i) => {
          const py = scales.y.getPixelForValue(v);
          ctx.save();
          if (i === 0) { ctx.translate(a.left - 8, a.bottom - 2); ctx.rotate(-Math.PI / 2); drawPower(ctx, "2.1", 0, 0, "left"); }
          else if (i === yTickValues.length - 1) { ctx.translate(a.left - 8, a.top + 15); ctx.rotate(-Math.PI / 2); drawPower(ctx, "8.1", 0, 0, "left"); }
          else { ctx.translate(a.left - 8, py); ctx.rotate(-Math.PI / 2); drawPower(ctx, String(v), 0, 0, "center"); }
          ctx.restore();
        });
        ctx.font = `8.4px ${FONT}`;
        ctx.fillStyle = "#222";
        ctx.textBaseline = "middle";
        ctx.textAlign = "left";
        const gx = scales.x.getPixelForValue(p.gateX);
        ctx.fillText("AnnexinV+DAPI+", gx + 9, a.top + 6);
        ctx.fillText(p.q[0], gx + 9, a.top + 15);
        ctx.fillText("Live", a.left + 3, a.bottom - 17);
        ctx.fillText(p.q[1], a.left + 3, a.bottom - 7);
        ctx.textAlign = "right";
        ctx.fillText("AnnexinV+", a.right - 3, a.bottom - 17);
        ctx.textAlign = "left";
        const w = ctx.measureText("AnnexinV+").width;
        ctx.fillText(p.q[2], a.right - 3 - w, a.bottom - 7);
        ctx.restore();
      },
    };
    const lineBase = { showLine: true, pointRadius: 0, borderColor: "#0c0c0c", borderWidth: 1, fill: false, tension: 0.35 };
    const datasets: any[] = [
      { label: "events", data: pairs(p.dots), pointRadius: 0.7, pointBackgroundColor: "#2a2a2a", pointBorderWidth: 0, showLine: false },
      ...p.loops.map((l: number[], i: number) => ({ ...lineBase, label: `contour ${i + 1}`, data: pairs([...l, l[0], l[1]]) })),
      { label: "gate x", data: [{ x: p.gateX, y: 2.1 }, { x: p.gateX, y: 8.1 }], showLine: true, pointRadius: 0, borderColor: "#7d7d7d", borderWidth: 1.2 },
      { label: "gate y", data: [{ x: 3.3, y: p.gateY }, { x: 8.1, y: p.gateY }], showLine: true, pointRadius: 0, borderColor: "#7d7d7d", borderWidth: 1.2 },
    ];
    const chart = new Chart(ref.current as any, {
      type: "scatter",
      data: { datasets },
      plugins: [overlay],
      options: {
        animation: false, responsive: false,
        layout: { padding: { top: M.t, right: M.r } },
        plugins: { legend: { display: false }, tooltip: { enabled: false } },
        scales: {
          x: {
            type: "linear", min: 3.3, max: 8.1,
            afterBuildTicks: (s: any) => { s.ticks = xTickValues.map((value) => ({ value })); },
            afterFit: (s: any) => { s.height = M.b; },
            ticks: { display: false },
            border: { display: false },
            grid: { drawOnChartArea: false, tickLength: 3, color: "#666" },
            title: { display: true, text: "AnnexinV-FITC-H", color: "#222", font: { size: 8.2, family: FONT }, padding: { top: 0, bottom: 2 } },
          },
          y: {
            type: "linear", min: 2.1, max: 8.1,
            afterBuildTicks: (s: any) => { s.ticks = yTickValues.map((value) => ({ value })); },
            afterFit: (s: any) => { s.width = M.l; },
            ticks: { display: false },
            border: { display: false },
            grid: { drawOnChartArea: false, tickLength: 3, color: "#666" },
            title: { display: true, text: "DAPI-H", color: "#222", font: { size: 8.2, family: FONT }, padding: { top: 5, bottom: 0 } },
          },
        },
      } as any,
    });
    return () => chart.destroy();
  }, []);
  const w = p.right - p.left + M.l + M.r;
  const h = p.bottom - p.top + M.t + M.b;
  return (
    <canvas ref={ref} width={w} height={h}
      style={{ position: "absolute", left: p.left - M.l, top: p.top - M.t, width: w, height: h, filter: "blur(0.35px)" }} />
  );
}

function BarPanel({ cfg }: { cfg: any }) {
  const ref = useRef<HTMLCanvasElement>(null);
  useEffect(() => {
    const overlay = {
      id: "barText",
      afterDatasetsDraw(chart: any) {
        const { ctx } = chart;
        ctx.save();
        ctx.fillStyle = "#222";
        ctx.font = `12.3px ${FONT}`;
        ctx.textAlign = "center";
        ctx.textBaseline = "middle";
        chart.data.datasets.forEach((ds: any, i: number) => {
          chart.getDatasetMeta(i).data.forEach((el: any, j: number) => {
            if (ds.data[j] != null) ctx.fillText(String(ds.data[j]), el.x, el.y - 13);
          });
        });
        const named = chart.data.datasets.filter((d: any) => d.label);
        ctx.textAlign = "left";
        ctx.font = `${cfg.legendSize}px ${FONT}`;
        named.forEach((ds: any, i: number) => {
          const [sx, sy, tx] = cfg.legend[i];
          ctx.fillStyle = ds.backgroundColor;
          ctx.fillRect(sx - cfg.x, sy - cfg.y - 4, 8, 8);
          ctx.fillStyle = "#2a2a2a";
          ctx.fillText(ds.label, tx - cfg.x, sy - cfg.y + 0.5);
        });
        if (cfg.yTitleAt) {
          ctx.save();
          ctx.translate(21 - cfg.x, cfg.yTitleAt - cfg.y);
          ctx.rotate(-Math.PI / 2);
          ctx.textAlign = "center";
          ctx.fillStyle = "#111";
          ctx.font = `bold 14.7px ${FONT}`;
          ctx.fillText(cfg.yTitle, 0, 0);
          ctx.restore();
        }
        ctx.restore();
      },
    };
    const chart = new Chart(ref.current as any, {
      type: "bar",
      data: { labels: ratioLabels, datasets: cfg.series.map((s: any) => ({ ...s, barPercentage: 1, categoryPercentage: cfg.catPct, borderWidth: 0 })) },
      plugins: [overlay],
      options: {
        animation: false, responsive: false,
        layout: { padding: { top: cfg.plotTop - cfg.y, right: cfg.x + cfg.w - cfg.plotRight } },
        plugins: { legend: { display: false }, tooltip: { enabled: false } },
        scales: {
          x: {
            afterFit: (s: any) => { s.height = cfg.y + cfg.h - cfg.plotBottom; },
            ticks: { color: "#222", font: { size: 14.6, family: FONT }, padding: cfg.xPad, maxRotation: 0, autoSkip: false },
            border: { color: "#a8a8a8", width: 1.5 },
            grid: { drawOnChartArea: false, tickLength: 4, color: "#a8a8a8", lineWidth: 1 },
            title: { display: true, text: cfg.xTitle, color: "#111", font: { size: 14.7, weight: "bold", family: FONT }, padding: { top: 0, bottom: cfg.xTitlePad } },
          },
          y: {
            min: 0, max: 100,
            afterFit: (s: any) => { s.width = cfg.plotLeft - cfg.x; },
            ticks: { stepSize: 20, color: "#222", font: { size: 14.8, family: FONT }, padding: 7 },
            border: { color: "#a8a8a8", width: 1.5 },
            grid: { drawOnChartArea: false, tickLength: 5, color: "#a8a8a8", lineWidth: 1 },
            title: cfg.yTitleNative
              ? { display: true, text: cfg.yTitle, color: "#111", font: { size: 15, weight: "bold", family: FONT }, padding: { top: 14, bottom: 0 } }
              : { display: false },
          },
        },
      } as any,
    });
    return () => chart.destroy();
  }, []);
  return <canvas ref={ref} width={cfg.w} height={cfg.h} style={{ position: "absolute", left: cfg.x, top: cfg.y, width: cfg.w, height: cfg.h }} />;
}

const blue = "#4F81BD", red = "#C0504D", green = "#9BBB59";

const bars = [
  {
    x: 0, y: 430, w: 392, h: 292, plotLeft: 72, plotRight: 386, plotTop: 446, plotBottom: 671, catPct: 0.67, xPad: 5, xTitlePad: 1,
    xTitle: "E:T Ratio", yTitle: "Normalized % Apoptotic Cells", yTitleAt: 567.5, legendSize: 13,
    legend: [[87, 487, 98], [137, 487, 147], [181, 487, 192]],
    series: [
      { label: "Early", data: early6h, backgroundColor: blue },
      { label: "Late", data: late6h, backgroundColor: red },
      { label: "Total", data: total6h, backgroundColor: green },
    ],
  },
  {
    x: 392, y: 430, w: 384, h: 292, plotLeft: 433, plotRight: 766, plotTop: 463, plotBottom: 669, catPct: 0.67, xPad: 5, xTitlePad: 6,
    xTitle: "E:T Ratio", legendSize: 13,
    legend: [[465, 495, 475], [513, 495, 523], [558, 495, 567]],
    series: [
      { label: "Early", data: early24h, backgroundColor: blue },
      { label: "Late", data: late24h, backgroundColor: red },
      { label: "Total", data: total24h, backgroundColor: green },
    ],
  },
  {
    x: 0, y: 750, w: 776, h: 349, plotLeft: 82, plotRight: 764, plotTop: 767, plotBottom: 1052, catPct: 0.77, xPad: 4, xTitlePad: -2,
    xTitle: "E:T ratio", yTitle: "% Apoptosis ( Flow vs xImpedance)", yTitleNative: true, legendSize: 15,
    legend: [[103, 783, 114], [249, 783, 261], [103, 811, 114], [249, 811, 261]],
    series: [
      { label: "6h Flow", data: flow6h, backgroundColor: "#92D050" },
      { label: "6h xCELLigence", data: xcell6h, backgroundColor: red },
      { label: "", data: [null, null, null, null, null], backgroundColor: "#fff" },
      { label: "24h Flow", data: flow24h, backgroundColor: "#31859C" },
      { label: "24h xCELLigence", data: xcell24h, backgroundColor: "#E36C0A" },
    ],
  },
];

const headings = [
  { t: "A", x: 9, y: 10, s: 17 },
  { t: "B", x: 9, y: 413, s: 17 },
  { t: "C", x: 9, y: 726, s: 17 },
  { t: "Target Alone", x: 146, y: 18, s: 15 },
  { t: "0.625:1", x: 337, y: 18, s: 15 },
  { t: "2.5:1", x: 506, y: 18, s: 15 },
  { t: "10:1", x: 678, y: 18, s: 15 },
  { t: "6h", x: 22, y: 119, s: 16 },
  { t: "24", x: 20, y: 282, s: 16 },
  { t: "% Apoptosis (6h)", x: 232, y: 441, s: 15 },
  { t: "% Apoptosis (24h)", x: 595, y: 439, s: 15 },
  { t: "% Apoptosis", x: 390, y: 747, s: 15 },
];

export default function App() {
  return (
    <div style={{ position: "absolute", left: 0, top: 0, width: 776, height: 1099, overflow: "hidden", background: "#fff", fontFamily: FONT }}>
      {panels.map((p, i) => <FlowPanel key={i} p={p} />)}
      {bars.map((c, i) => <BarPanel key={i} cfg={c} />)}
      {headings.map((h, i) => (
        <div key={i} style={{
          position: "absolute", left: h.x, top: h.y, fontSize: h.s, fontWeight: "bold", color: "#111", lineHeight: 1, whiteSpace: "nowrap",
          transform: "translate(-50%,-50%)",
        }}>{h.t}</div>
      ))}
    </div>
  );
}
